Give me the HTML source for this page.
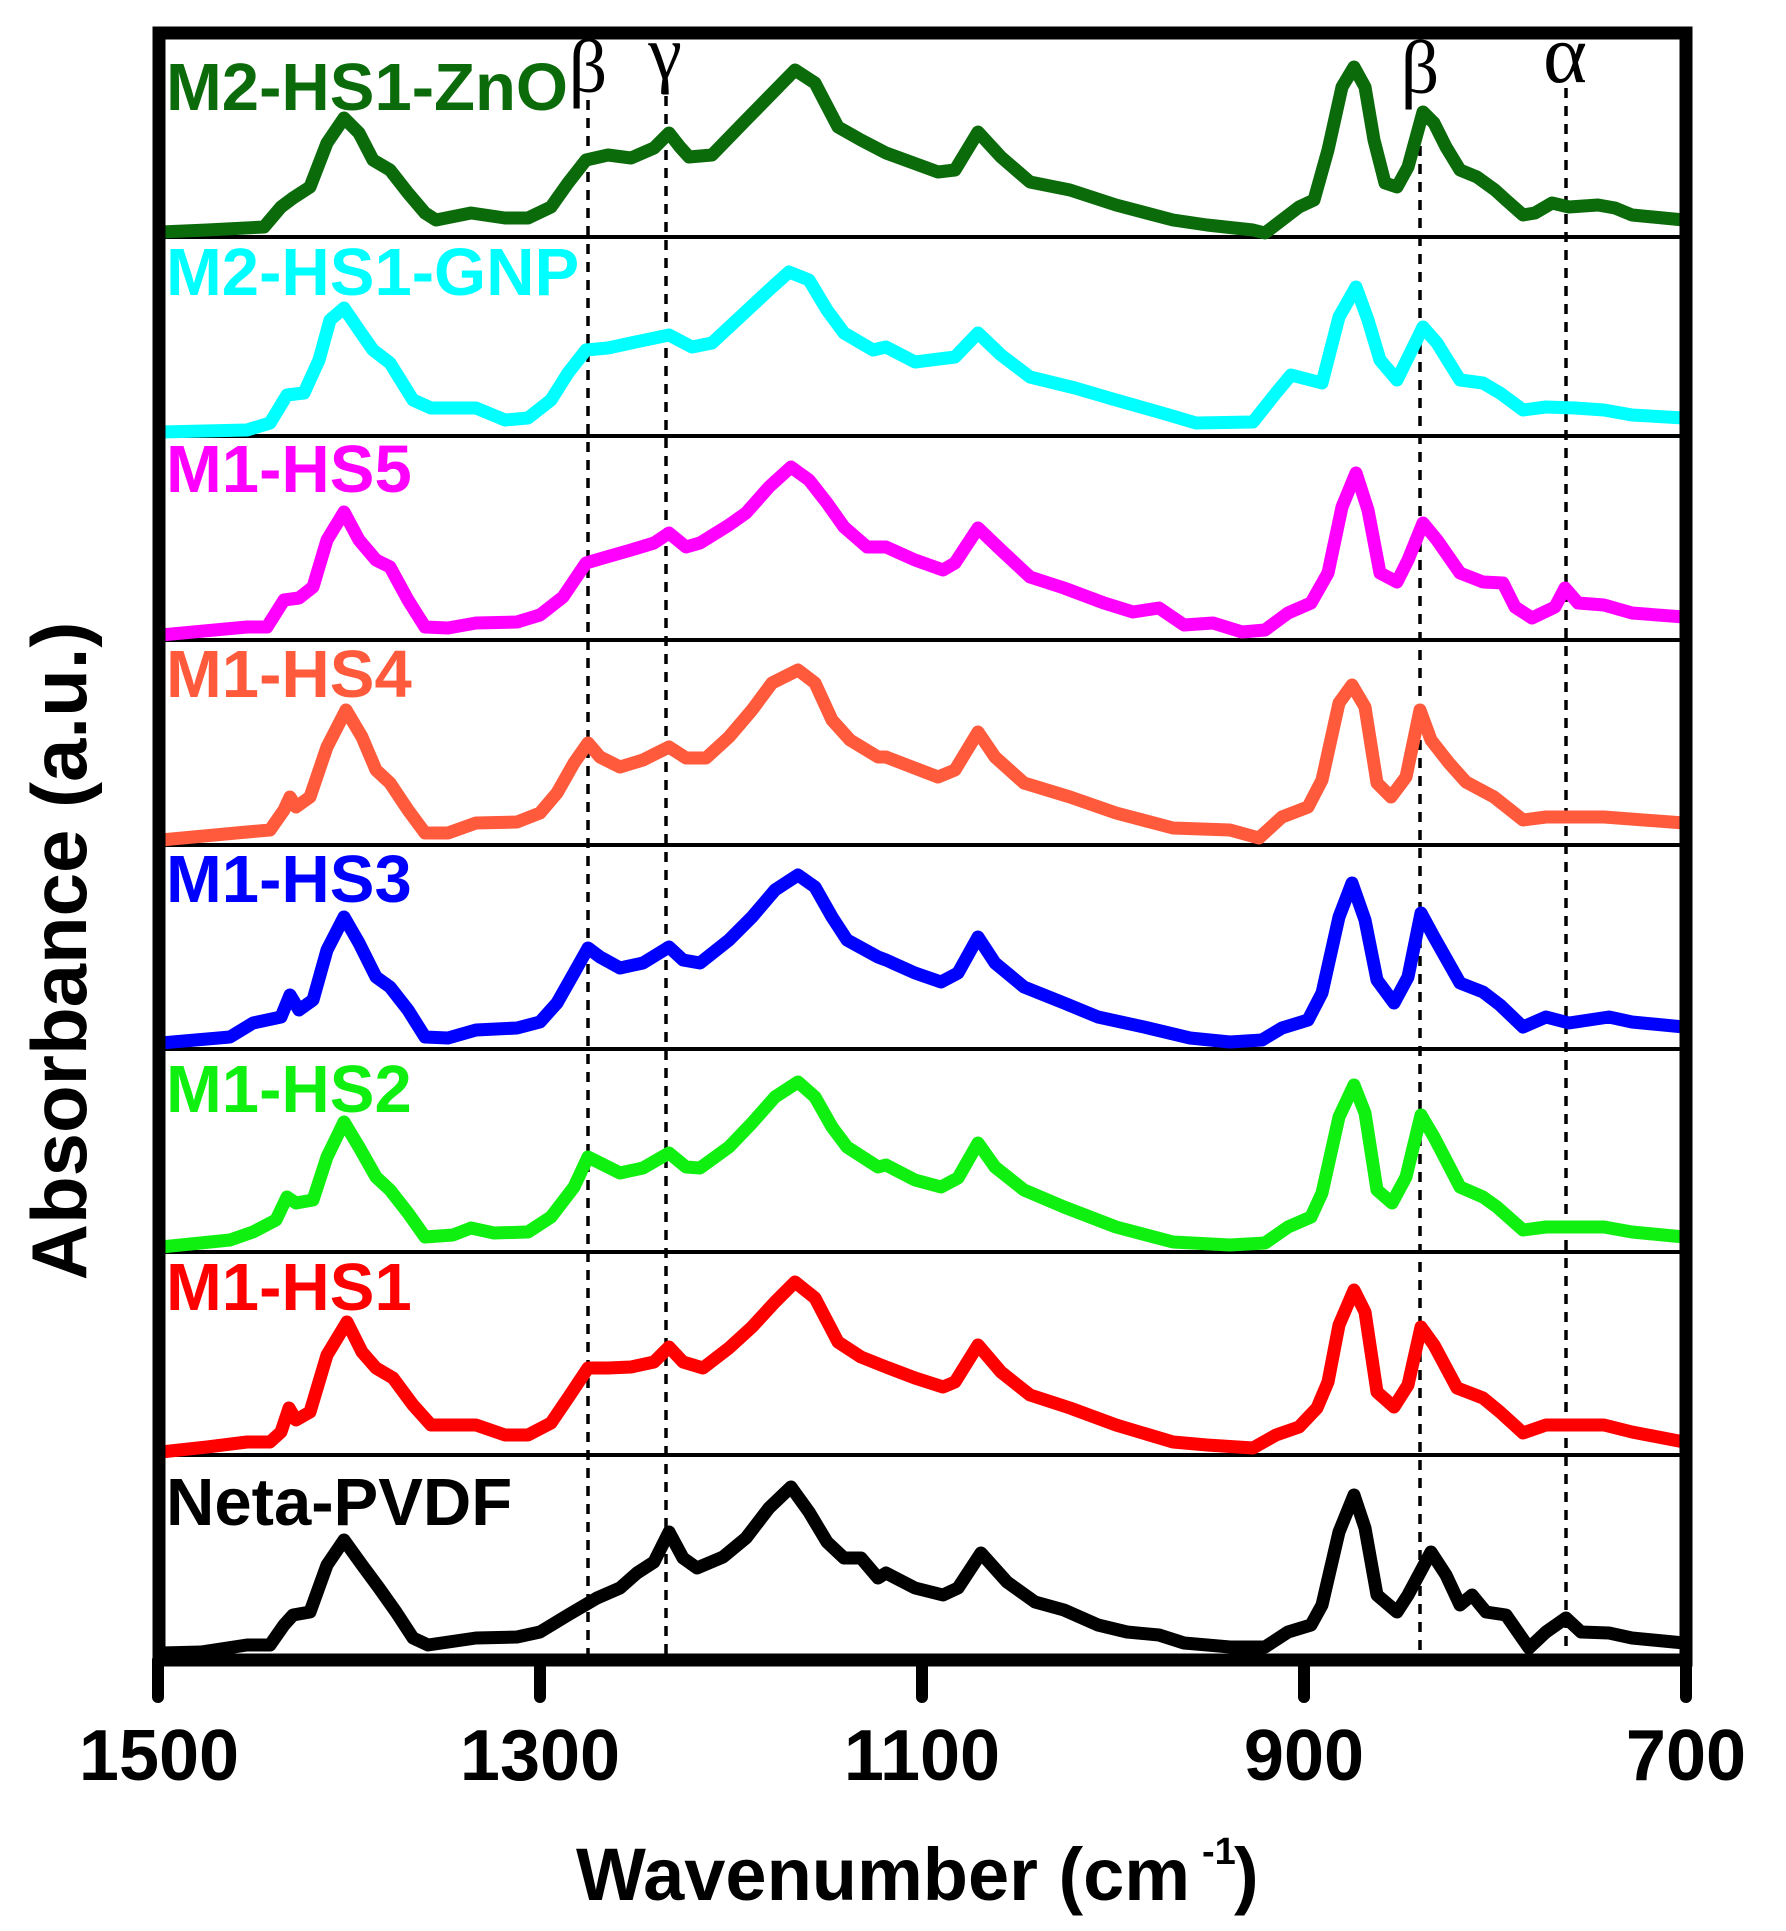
<!DOCTYPE html>
<html>
<head>
<meta charset="utf-8">
<style>
html,body{margin:0;padding:0;background:#ffffff;}
svg{display:block;}
</style>
</head>
<body>
<svg xmlns="http://www.w3.org/2000/svg" width="1786" height="1931" viewBox="0 0 1786 1931">
<rect x="0" y="0" width="1786" height="1931" fill="#ffffff"/>

<!-- dashed reference lines -->
<g stroke="#000" stroke-width="3.5" stroke-dasharray="10 8" fill="none">
  <line x1="588" y1="100" x2="588" y2="1654"/>
  <line x1="666" y1="96" x2="666" y2="1654"/>
  <line x1="1420" y1="110" x2="1420" y2="1654"/>
  <line x1="1566" y1="88" x2="1566" y2="1654"/>
</g>

<!-- panel separators -->
<g stroke="#000" stroke-width="4">
  <line x1="159" y1="237" x2="1686" y2="237"/>
  <line x1="159" y1="436" x2="1686" y2="436"/>
  <line x1="159" y1="640" x2="1686" y2="640"/>
  <line x1="159" y1="845" x2="1686" y2="845"/>
  <line x1="159" y1="1049" x2="1686" y2="1049"/>
  <line x1="159" y1="1252" x2="1686" y2="1252"/>
  <line x1="159" y1="1455" x2="1686" y2="1455"/>
</g>

<!-- curves -->
<g fill="none" stroke-width="13" stroke-linejoin="round" stroke-linecap="round">
<polyline stroke="#0b6b0b" points="161,232 207,230 264,227 281,207 293,198 310,187 327,143 344,118 359,133 373,160 390,170 408,193 425,213 436,220 471,213 505,218 528,218 551,207 568,183 586,160 608,155 631,158 654,148 669,133 680,147 689,157 712,155 746,120 795,70 815,83 838,127 861,140 886,153 938,172 955,170 978,132 1001,157 1030,182 1070,190 1116,205 1173,220 1207,225 1253,230 1265,233 1299,207 1314,200 1328,150 1342,87 1354,67 1365,87 1374,140 1385,183 1397,187 1408,167 1423,112 1434,123 1446,147 1460,170 1477,177 1495,190 1506,200 1523,215 1535,213 1552,203 1569,207 1598,205 1615,208 1632,215 1684,220"/>
<polyline stroke="#00ffff" points="161,432 247,430 270,423 287,395 304,393 319,360 330,320 344,308 359,330 373,350 390,363 413,400 431,408 476,408 505,420 528,418 551,400 568,373 586,350 608,348 631,343 669,335 692,347 712,343 740,317 769,290 789,272 809,280 827,310 844,333 873,350 886,347 915,362 955,357 978,333 1001,355 1030,377 1075,388 1116,400 1162,413 1196,423 1253,422 1276,393 1291,375 1322,383 1339,317 1356,287 1368,320 1380,360 1397,380 1423,327 1437,343 1460,380 1483,383 1500,393 1523,410 1546,407 1575,408 1604,410 1632,415 1684,418"/>
<polyline stroke="#ff00ff" points="161,635 247,627 267,627 284,600 299,598 313,587 327,540 344,512 359,540 376,560 390,567 408,600 425,627 448,628 476,623 517,622 540,615 563,597 586,563 603,558 631,550 654,543 669,533 686,547 700,543 729,525 746,513 769,487 791,467 809,480 827,503 844,527 867,547 886,547 915,560 943,570 955,563 978,528 1001,550 1030,577 1064,588 1104,603 1133,612 1159,608 1184,625 1213,623 1242,632 1265,630 1288,613 1311,603 1328,573 1342,507 1356,473 1368,510 1380,573 1397,582 1408,560 1423,523 1437,540 1460,573 1483,582 1503,583 1515,607 1532,618 1555,607 1565,588 1578,603 1604,605 1632,613 1684,617"/>
<polyline stroke="#ff5a3c" points="161,840 247,832 270,830 284,810 290,797 296,807 310,797 327,747 346,710 362,737 376,770 390,783 408,810 425,833 448,833 476,823 517,822 540,813 557,793 574,763 588,743 600,757 620,767 643,760 669,747 686,758 706,758 729,737 752,710 772,683 798,670 815,683 832,720 850,740 878,757 886,757 938,777 955,770 978,732 995,757 1024,783 1070,797 1116,813 1173,828 1230,830 1259,838 1282,817 1308,807 1322,780 1339,703 1352,685 1365,707 1377,783 1391,797 1406,777 1420,710 1431,740 1449,763 1466,782 1494,797 1523,820 1546,817 1604,817 1684,823"/>
<polyline stroke="#0000ff" points="161,1043 230,1037 253,1023 281,1017 290,995 299,1010 313,1000 327,950 344,917 359,943 376,977 390,987 408,1010 425,1037 448,1038 476,1030 517,1028 540,1022 557,1003 574,973 588,948 600,957 620,968 643,963 669,947 683,960 700,963 729,940 752,917 775,890 798,875 815,887 832,917 847,940 878,957 886,960 915,973 941,982 958,973 978,937 995,963 1024,987 1064,1003 1098,1017 1144,1027 1190,1038 1230,1042 1262,1040 1282,1028 1308,1020 1322,993 1339,917 1352,883 1365,920 1377,980 1394,1003 1408,977 1421,913 1434,937 1460,983 1483,992 1500,1005 1523,1027 1546,1017 1569,1023 1609,1017 1632,1022 1684,1027"/>
<polyline stroke="#10f010" points="161,1247 230,1240 253,1232 276,1220 287,1197 296,1203 313,1200 327,1157 344,1122 359,1147 376,1177 390,1190 408,1213 425,1237 453,1235 471,1228 494,1233 528,1232 551,1217 574,1187 588,1157 600,1163 620,1173 643,1168 669,1153 686,1167 700,1168 729,1147 752,1123 775,1097 798,1082 815,1097 832,1127 847,1147 878,1167 886,1165 915,1180 941,1187 958,1178 978,1143 995,1167 1024,1190 1064,1207 1116,1227 1173,1242 1230,1245 1265,1243 1288,1227 1311,1217 1322,1193 1339,1117 1354,1085 1365,1113 1377,1190 1392,1203 1406,1177 1421,1115 1434,1137 1460,1187 1483,1197 1497,1207 1523,1230 1546,1227 1604,1227 1632,1232 1684,1237"/>
<polyline stroke="#ff0000" points="161,1452 207,1447 247,1442 270,1442 281,1432 289,1408 296,1420 310,1412 327,1355 347,1322 362,1352 376,1368 393,1378 413,1405 431,1425 453,1425 476,1425 505,1435 528,1435 551,1423 568,1398 588,1368 608,1368 631,1367 654,1362 669,1347 683,1362 703,1368 729,1348 752,1327 775,1302 795,1282 815,1298 838,1342 861,1357 886,1367 915,1378 943,1387 955,1382 978,1345 1001,1372 1030,1395 1070,1408 1116,1425 1173,1442 1207,1445 1253,1448 1276,1435 1299,1427 1317,1408 1328,1382 1339,1325 1354,1290 1365,1312 1377,1392 1394,1407 1408,1385 1421,1327 1434,1345 1457,1388 1483,1398 1500,1412 1523,1433 1546,1425 1604,1425 1632,1432 1684,1442"/>
<polyline stroke="#000000" points="161,1653 201,1652 247,1645 270,1645 284,1625 293,1615 310,1612 327,1565 344,1540 362,1565 379,1588 396,1612 413,1638 428,1645 476,1638 517,1637 540,1632 568,1615 597,1598 620,1588 637,1573 654,1562 669,1532 683,1558 697,1568 723,1557 746,1538 769,1508 791,1487 809,1512 827,1542 844,1558 861,1558 878,1578 886,1573 915,1588 943,1595 958,1588 981,1553 1007,1582 1035,1602 1064,1610 1098,1625 1127,1632 1159,1635 1184,1643 1230,1647 1265,1647 1288,1632 1311,1625 1322,1605 1339,1532 1354,1495 1365,1528 1377,1595 1397,1612 1408,1595 1431,1552 1446,1575 1460,1605 1472,1595 1486,1612 1506,1615 1529,1648 1546,1632 1566,1618 1581,1632 1609,1633 1632,1638 1684,1643"/>
</g>

<!-- series labels -->
<g font-family="'Liberation Sans', Arial, sans-serif" font-weight="bold" font-size="67">
  <text x="166" y="110" fill="#0b6b0b">M2-HS1-ZnO</text>
  <text x="166" y="295" fill="#00ffff">M2-HS1-GNP</text>
  <text x="166" y="492" fill="#ff00ff">M1-HS5</text>
  <text x="166" y="697" fill="#ff5a3c">M1-HS4</text>
  <text x="166" y="902" fill="#0000ff">M1-HS3</text>
  <text x="166" y="1112" fill="#10f010">M1-HS2</text>
  <text x="166" y="1310" fill="#ff0000">M1-HS1</text>
  <text x="166" y="1525" fill="#000000">Neta-PVDF</text>
</g>

<!-- greek labels -->
<g font-family="'Liberation Serif', 'Times New Roman', serif" fill="#000" text-anchor="middle">
  <text x="588" y="92" font-size="76">β</text>
  <text x="665" y="78" font-size="76">γ</text>
  <text x="1420" y="93" font-size="76">β</text>
  <text x="1565" y="82" font-size="84">α</text>
</g>

<!-- frame -->
<rect x="159" y="33" width="1527" height="1627" fill="none" stroke="#000" stroke-width="13" stroke-linejoin="miter"/>

<!-- ticks -->
<g stroke="#000" stroke-width="12" stroke-linecap="round">
  <line x1="158" y1="1660" x2="158" y2="1697"/>
  <line x1="540" y1="1660" x2="540" y2="1697"/>
  <line x1="922" y1="1660" x2="922" y2="1697"/>
  <line x1="1304" y1="1660" x2="1304" y2="1697"/>
  <line x1="1686" y1="1660" x2="1686" y2="1697"/>
</g>

<!-- tick labels -->
<g font-family="'Liberation Sans', Arial, sans-serif" font-weight="bold" font-size="72" fill="#000" text-anchor="middle">
  <text x="159" y="1780">1500</text>
  <text x="540" y="1780">1300</text>
  <text x="922" y="1780">1100</text>
  <text x="1304" y="1780">900</text>
  <text x="1686" y="1780">700</text>
</g>

<!-- x axis title -->
<g font-family="'Liberation Sans', Arial, sans-serif" font-weight="bold" fill="#000">
  <text x="576" y="1900" font-size="74">Wavenumber (cm</text>
  <text x="1202" y="1864" font-size="38">-1</text>
  <text x="1234" y="1900" font-size="74">)</text>
</g>

<!-- y axis title -->
<text transform="translate(86,951) rotate(-90)" text-anchor="middle" font-family="'Liberation Sans', Arial, sans-serif" font-weight="bold" font-size="78" fill="#000">Absorbance (a.u.)</text>
</svg>
</body>
</html>
